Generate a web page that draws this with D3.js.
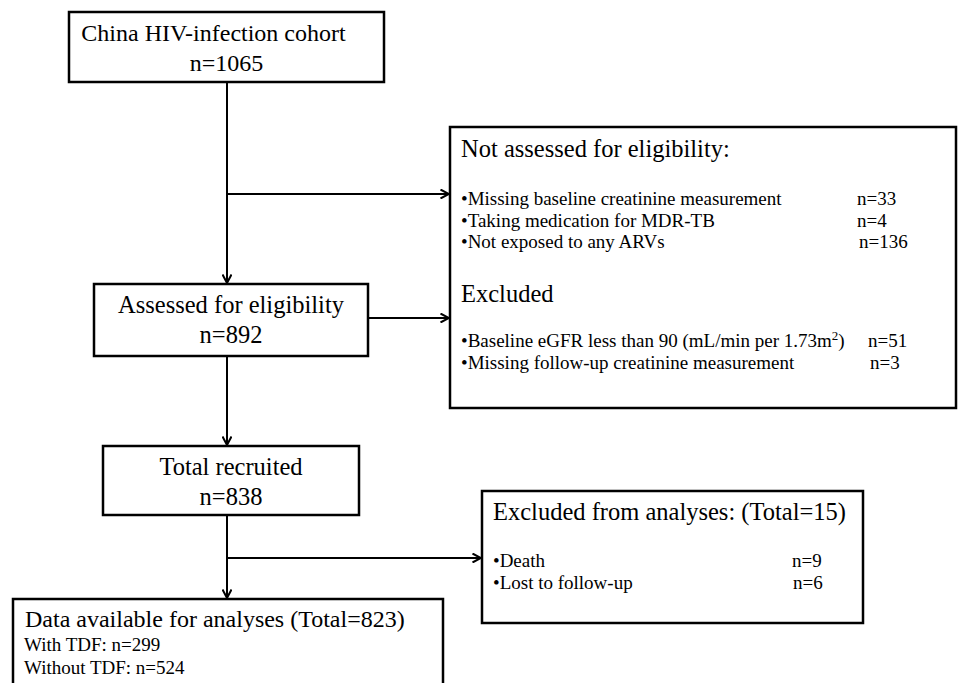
<!DOCTYPE html>
<html lang="en">
<head>
  <meta charset="UTF-8">
  <title>China HIV-infection cohort flow</title>
  <script src="https://d3js.org/d3.v7.min.js"></script>
  <style>
    body {
      margin: 0;
      background: #fff;
      font-family: "Liberation Serif", "Times New Roman", serif;
    }
    text { fill: #000; }
  </style>
</head>
<body>
  <div id="chart"></div>

  <script>
    // flow stages and counts
    const stages = ["China HIV-infection cohort", "Assessed for eligibility", "Total recruited"];
    const stageCounts = [1065, 892, 838];
    const finalStage = "Data available for analyses";
    const finalCount = 823;
    const tdfGroups = ["With TDF", "Without TDF"];
    const tdfCounts = [299, 524];

    const notAssessedTitle = "Not assessed for eligibility:";
    const notAssessedReasons = ["Missing baseline creatinine measurement", "Taking medication for MDR-TB", "Not exposed to any ARVs"];
    const notAssessedCounts = [33, 4, 136];

    const excludedTitle = "Excluded";
    const excludedReasons = ["Baseline eGFR less than 90 (mL/min per 1.73m", "Missing follow-up creatinine measurement"];
    const excludedCounts = [51, 3];

    const droppedTitle = "Excluded from analyses:";
    const droppedReasons = ["Death", "Lost to follow-up"];
    const droppedCounts = [9, 6];

    const width = 958, height = 683;
    const spineX = 227;

    // layout of the boxes
    const stageBoxes = [
      {x: 69, y: 12, w: 315, h: 70, base: 41, dx: -13},
      {x: 94, y: 284, w: 274, h: 72, base: 313, dx: 0},
      {x: 103, y: 446, w: 256, h: 69, base: 475, dx: 0}
    ];
    const finalBox = {x: 13, y: 599, w: 430, h: 110};
    const sideBox1 = {x: 450, y: 127, w: 506, h: 281};
    const sideBox2 = {x: 482, y: 491, w: 381, h: 132};

    const svg = d3.select("#chart")
      .append("svg")
      .attr("width", width)
      .attr("height", height);

    svg.append("defs").append("marker")
      .attr("id", "arrow")
      .attr("viewBox", "0 0 10 10")
      .attr("refX", 9.5).attr("refY", 5)
      .attr("markerWidth", 10).attr("markerHeight", 10)
      .attr("markerUnits", "userSpaceOnUse")
      .attr("orient", "auto")
      .append("path")
      .attr("d", "M1,0.5 L9.5,5 L1,9.5")
      .attr("fill", "none")
      .attr("stroke", "#000")
      .attr("stroke-width", 2);

    const drawBox = b => svg.append("rect")
      .attr("x", b.x).attr("y", b.y)
      .attr("width", b.w).attr("height", b.h)
      .attr("fill", "#fff")
      .attr("stroke", "#000")
      .attr("stroke-width", 2.5);

    const line = (x1, y1, x2, y2, arrow) => {
      const l = svg.append("line")
        .attr("x1", x1).attr("y1", y1).attr("x2", x2).attr("y2", y2)
        .attr("stroke", "#000").attr("stroke-width", 2);
      if (arrow) l.attr("marker-end", "url(#arrow)");
    };

    // connectors
    line(spineX, 82, spineX, 283, true);
    line(spineX, 194, sideBox1.x - 1, 194, true);
    line(368, 318, sideBox1.x - 1, 318, true);
    line(spineX, 356, spineX, 445, true);
    line(spineX, 515, spineX, 598, true);
    line(spineX, 558, sideBox2.x - 1, 558, true);

    // main stage boxes
    stages.forEach((s, i) => {
      const b = stageBoxes[i];
      drawBox(b);
      const t = svg.append("text")
        .attr("text-anchor", "middle")
        .style("font-size", i === 0 ? "24px" : "24.5px");
      t.append("tspan").attr("x", b.x + b.w / 2 + b.dx).attr("y", b.base).text(s);
      t.append("tspan").attr("x", b.x + b.w / 2).attr("y", b.base + 30).text(`n=${stageCounts[i]}`);
    });

    // final box
    drawBox(finalBox);
    svg.append("text")
      .attr("x", 25).attr("y", 627)
      .style("font-size", "24px")
      .text(`${finalStage} (Total=${finalCount})`);
    svg.selectAll(".tdf")
      .data(tdfGroups)
      .enter()
      .append("text")
      .attr("x", 24)
      .attr("y", (d, i) => 651 + i * 23)
      .style("font-size", "19px")
      .text((d, i) => `${d}: n=${tdfCounts[i]}`);

    // bullet list helper
    const bullets = (labels, counts, x0, y0, step, nx) => {
      labels.forEach((d, i) => {
        const t = svg.append("text")
          .attr("x", x0).attr("y", y0 + i * step)
          .style("font-size", "19px");
        t.append("tspan").text("\u2022" + d);
        if (d.endsWith("1.73m")) {
          t.append("tspan").attr("dy", -7).style("font-size", "13px").text("2");
          t.append("tspan").attr("dy", 7).text(")");
        }
        svg.append("text")
          .attr("x", nx[i]).attr("y", y0 + i * step)
          .style("font-size", "19px")
          .text(`n=${counts[i]}`);
      });
    };

    drawBox(sideBox1);
    svg.append("text").attr("x", 461).attr("y", 157)
      .style("font-size", "24.5px").text(notAssessedTitle);
    bullets(notAssessedReasons, notAssessedCounts, 461, 205, 21.5, [857, 857, 859]);
    svg.append("text").attr("x", 461).attr("y", 302)
      .style("font-size", "24.5px").text(excludedTitle);
    bullets(excludedReasons, excludedCounts, 461, 347, 21.5, [868, 870]);

    drawBox(sideBox2);
    svg.append("text").attr("x", 493).attr("y", 520)
      .style("font-size", "24.5px")
      .text(`${droppedTitle} (Total=${d3.sum(droppedCounts)})`);
    bullets(droppedReasons, droppedCounts, 493, 567, 22, [792, 793]);
  </script>
</body>
</html>
